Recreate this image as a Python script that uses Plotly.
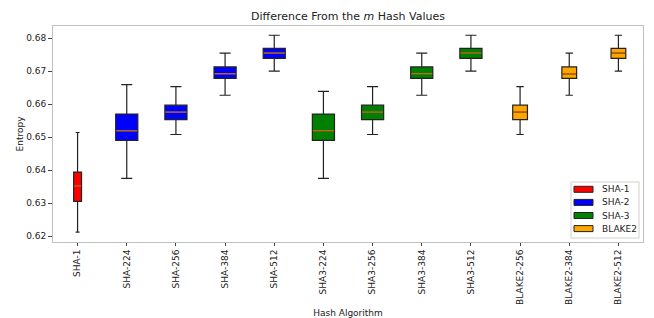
import plotly.graph_objects as go

categories = ["SHA-1", "SHA-224", "SHA-256", "SHA-384", "SHA-512",
              "SHA3-224", "SHA3-256", "SHA3-384", "SHA3-512",
              "BLAKE2-256", "BLAKE2-384", "BLAKE2-512"]
groups = ["SHA-1", "SHA-2", "SHA-2", "SHA-2", "SHA-2",
          "SHA-3", "SHA-3", "SHA-3", "SHA-3",
          "BLAKE2", "BLAKE2", "BLAKE2"]
lower_whisker = [0.6212, 0.6375, 0.6508, 0.6627, 0.6700,
                 0.6375, 0.6508, 0.6627, 0.6700,
                 0.6508, 0.6627, 0.6700]
q1 = [0.6305, 0.6490, 0.6553, 0.6678, 0.6739,
      0.6490, 0.6553, 0.6678, 0.6739,
      0.6553, 0.6678, 0.6739]
median = [0.6352, 0.6519, 0.6576, 0.6692, 0.6755,
          0.6519, 0.6576, 0.6692, 0.6755,
          0.6576, 0.6692, 0.6755]
q3 = [0.6394, 0.6570, 0.6597, 0.6713, 0.6769,
      0.6570, 0.6597, 0.6713, 0.6769,
      0.6597, 0.6713, 0.6769]
upper_whisker = [0.6514, 0.6659, 0.6653, 0.6755, 0.6809,
                 0.6639, 0.6653, 0.6755, 0.6809,
                 0.6653, 0.6755, 0.6809]

group_names = ["SHA-1", "SHA-2", "SHA-3", "BLAKE2"]
group_colors = {"SHA-1": "red", "SHA-2": "blue", "SHA-3": "green", "BLAKE2": "orange"}
group_widths = {"SHA-1": 0.16, "SHA-2": 0.45, "SHA-3": 0.45, "BLAKE2": 0.3}

# plot-area geometry in pixels (layout only)
W, H = 654, 318
ML, MR, MT, MB = 53, 11, 26, 76
PW, PH = W - ML - MR, H - MT - MB


def px_x(p):
    return (p - ML) / PW


def px_y(p):
    return 1 - (p - MT) / PH


fig = go.Figure()
for g in group_names:
    idx = [i for i, gg in enumerate(groups) if gg == g]
    fig.add_trace(go.Box(
        name=g,
        x=[categories[i] for i in idx],
        q1=[q1[i] for i in idx],
        median=[median[i] for i in idx],
        q3=[q3[i] for i in idx],
        lowerfence=[lower_whisker[i] for i in idx],
        upperfence=[upper_whisker[i] for i in idx],
        fillcolor=group_colors[g],
        line=dict(color="#222222", width=1.2),
        width=group_widths[g],
        whiskerwidth=0.5,
        boxpoints=False,
        hoverinfo="skip",
        showlegend=False,
    ))

shapes = []
for i, g in enumerate(groups):
    w = group_widths[g]
    shapes.append(dict(type="line", xref="x", yref="y",
                       x0=i - w / 2 + 0.01, x1=i + w / 2 - 0.01,
                       y0=median[i], y1=median[i],
                       line=dict(color="#ff8c1a" if g != "BLAKE2" else "#e07b00", width=1)))

# manual legend (matplotlib-style patches)
annotations = []
shapes.append(dict(type="rect", xref="paper", yref="paper",
                   x0=px_x(571), x1=px_x(639), y0=px_y(238), y1=px_y(182),
                   fillcolor="white", line=dict(color="#d0d0d0", width=1)))
for k, g in enumerate(group_names):
    cy = 189.3 + 13.1 * k
    shapes.append(dict(type="rect", xref="paper", yref="paper",
                       x0=px_x(574), x1=px_x(593), y0=px_y(cy + 3), y1=px_y(cy - 3),
                       fillcolor=group_colors[g], line=dict(color="#222", width=1)))
    annotations.append(dict(xref="paper", yref="paper", x=px_x(600), y=px_y(cy),
                            xanchor="left", yanchor="middle", text=g, showarrow=False,
                            font=dict(size=9, color="#222")))

fig.update_layout(
    width=W, height=H,
    margin=dict(l=ML, r=MR, t=MT, b=MB),
    paper_bgcolor="white", plot_bgcolor="white",
    font=dict(family="DejaVu Sans", size=9, color="#222"),
    title=dict(text="Difference From the <i>m</i> Hash Values", x=348 / W, xanchor="center",
               xref="container", y=1 - 16 / H, yanchor="middle", font=dict(size=11, color="#222")),
    boxmode="overlay",
    shapes=shapes,
    annotations=annotations,
    showlegend=False,
)
fig.update_xaxes(
    type="category", categoryorder="array", categoryarray=categories,
    range=[-0.5, 11.5], tickangle=-90, ticks="outside", ticklen=3,
    tickcolor="#444", showline=True, linecolor="#c0c0c0", mirror=True,
    showgrid=False, automargin=False,
    title=dict(text="Hash Algorithm", standoff=8, font=dict(size=9)),
    tickfont=dict(size=9),
)
fig.update_yaxes(
    range=[0.6182, 0.6837], tickvals=[0.62, 0.63, 0.64, 0.65, 0.66, 0.67, 0.68],
    tickformat=".2f", ticks="outside", ticklen=4, tickcolor="#444",
    showline=True, linecolor="#c0c0c0", mirror=True, showgrid=False, zeroline=False,
    automargin=False,
    title=dict(text="Entropy", standoff=1, font=dict(size=9)), tickfont=dict(size=9),
)

fig.write_html("out.html", config={"displayModeBar": False},
               post_script="document.body.style.margin='0';document.body.style.overflow='hidden';")
